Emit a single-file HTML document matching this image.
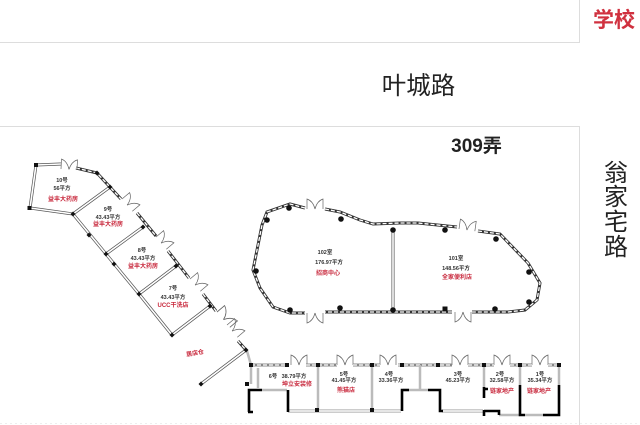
<!DOCTYPE html>
<html><head><meta charset="utf-8"><style>
html,body{margin:0;padding:0;background:#fff;width:640px;height:425px;overflow:hidden}
svg{display:block;font-family:"Liberation Sans","Noto Sans CJK SC",sans-serif}
.art{filter:blur(.35px)}
.w1{fill:none;stroke:#555;stroke-width:3}
.w2{fill:none;stroke:#fff;stroke-width:1.6}
.h1{fill:none;stroke:#333;stroke-width:3}
.h2{fill:none;stroke:#fff;stroke-width:1.3;stroke-dasharray:4 2}
.g{fill:none;stroke:#bbb;stroke-width:2.5}
.k{fill:none;stroke:#000;stroke-width:2.6}
.d{fill:none;stroke:#666;stroke-width:.7}
.t{font-size:5.5px;fill:#333;text-anchor:middle;font-weight:bold}
.r{font-size:6px;fill:#c8283c;text-anchor:middle;font-weight:bold}
</style></head><body>
<svg width="640" height="425" viewBox="0 0 640 425" xmlns="http://www.w3.org/2000/svg">
<defs><path id="dr" d="M0 0V-10Q6-8 8 0M16 0V-10Q10-8 8 0"/></defs>
<path d="M0 42.5H579.5V0M0 126.5H579.5V425" fill="none" stroke="#ddd" stroke-width="1"/>
<path d="M0 423.5H640" fill="none" stroke="#eee" stroke-width="1" stroke-dasharray="2 3"/>
<g class="art">
<!-- diagonal units: double walls -->
<path class="w1" d="M61 164L36 165M36 165L30 208L73 214L139 294L172 335L210 306M110 187L73 214M143 227L106 254M176 266L139 294M246 350L201 384"/>
<path class="w2" d="M61 164L36 165M36 165L30 208L73 214L139 294L172 335L210 306M110 187L73 214M143 227L106 254M176 266L139 294M246 350L201 384"/>
<!-- diagonal hatched front -->
<path class="h1" d="M76 168L97 173L121 199M137 213L156 236M168 251L189 278M203 294L216 311M238 341L246 350"/>
<path class="h2" d="M76 168L97 173L121 199M137 213L156 236M168 251L189 278M203 294L216 311M238 341L246 350"/>
<g class="d">
<use href="#dr" transform="translate(61,169) rotate(3)"/>
<use href="#dr" transform="translate(122,199) rotate(50)"/>
<use href="#dr" transform="translate(156,237) rotate(50)"/>
<use href="#dr" transform="translate(190,279) rotate(50)"/>
<use href="#dr" transform="translate(217,312) rotate(50) scale(1.25,1)"/>
<use href="#dr" transform="translate(227,325) rotate(50)"/>
<use href="#dr" transform="translate(307,209)"/>
<use href="#dr" transform="translate(307,313) scale(1,-1)"/>
<use href="#dr" transform="translate(459,229) rotate(8)"/>
<use href="#dr" transform="translate(455,312) scale(1,-1)"/>
<use href="#dr" transform="translate(291,365)"/>
<use href="#dr" transform="translate(337,365)"/>
<use href="#dr" transform="translate(380,365)"/>
<use href="#dr" transform="translate(452,365)"/>
<use href="#dr" transform="translate(494,365)"/>
<use href="#dr" transform="translate(532,365)"/>
</g>
<!-- rooms 102/101 outline -->
<path class="h1" d="M305 208L290 204L267 212L262 225L253 270L260 288L273 307L290 313H305M325 209L340 212L360 220L373 224L400 223L418 223L457 227M478 231L500 234L528 263L540 283L537 300L525 310L508 312H472M452 312H325"/>
<path class="h2" d="M305 208L290 204L267 212L262 225L253 270L260 288L273 307L290 313H305M325 209L340 212L360 220L373 224L400 223L418 223L457 227M478 231L500 234L528 263L540 283L537 300L525 310L508 312H472M452 312H325"/>
<path class="w1" d="M393 230V310"/><path class="w2" d="M393 230V310"/>
<!-- bottom row -->
<path class="h1" style="stroke:#888" d="M251 365H287M306 365H337M353 365H380M398 365H452M468 365H494M510 365H532M548 365H559"/>
<path class="h2" d="M251 365H287M306 365H337M353 365H380M398 365H452M468 365H494M510 365H532M548 365H559"/>
<path class="g" d="M318 365V410M372 365V410M420 365V390M484 365V388M520 365V385M559 365V385M262 390H287M403 390H428M499 415H520M525 415H543M251 365V384M258 368V388M247 351L251 365"/>
<path class="w1" style="stroke:#999" d="M288 411H317H372H401M442 411H483"/>
<path class="w2" d="M288 411H317H372H401M442 411H483"/>
<path class="k" d="M249 412V390H262M288 390V412M402 411V390H409M428 390H440V411H443M484 387V398M484 389H488M484 410V416M484 411H499V415M520 385V415H525M543 415H559V385M248 412H253"/>
<!-- columns -->
<g fill="#111">
<circle cx="289" cy="208" r="2.8"/><circle cx="267" cy="220" r="2.8"/><circle cx="341" cy="219" r="2.8"/><circle cx="393" cy="230" r="2.8"/><circle cx="256" cy="271" r="2.8"/><circle cx="290" cy="310" r="2.8"/><circle cx="340" cy="308" r="2.8"/><circle cx="393" cy="310" r="2.8"/><circle cx="445" cy="230" r="2.8"/><circle cx="496" cy="239" r="2.8"/><circle cx="529" cy="272" r="2.8"/><circle cx="529" cy="302" r="2.8"/><circle cx="495" cy="309" r="2.8"/>
<rect x="442.500" y="306.500" width="5" height="5"/>
<rect x="34" y="163" width="4" height="4"/><rect x="27.500" y="206" width="4" height="4"/>
<rect x="249" y="363" width="4" height="4"/><rect x="245" y="382" width="4" height="4"/><rect x="285" y="363" width="4" height="4"/><rect x="316" y="363" width="4" height="4"/><rect x="315" y="408" width="4" height="4"/><rect x="370" y="363" width="4" height="4"/><rect x="370" y="408" width="4" height="4"/><rect x="400" y="363" width="4" height="4"/><rect x="436" y="363" width="4" height="4"/><rect x="482" y="363" width="4" height="4"/><rect x="518" y="363" width="4" height="4"/><rect x="557" y="363" width="4" height="4"/>
<path d="M97 170.500l2.500 2.500-2.500 2.500-2.500-2.500zM110 184.500l2.500 2.500-2.500 2.500-2.500-2.500zM73 211.500l2.500 2.500-2.500 2.500-2.500-2.500zM89 232.500l2.500 2.500-2.500 2.500-2.500-2.500zM106 251.500l2.500 2.500-2.500 2.500-2.500-2.500zM114 261.500l2.500 2.500-2.500 2.500-2.500-2.500zM139 291.500l2.500 2.500-2.500 2.500-2.500-2.500zM143 224.500l2.500 2.500-2.500 2.500-2.500-2.500zM176 263.500l2.500 2.500-2.500 2.500-2.500-2.500zM210 303.500l2.500 2.500-2.500 2.500-2.500-2.500zM172 332.500l2.500 2.500-2.500 2.500-2.500-2.500zM246 347.500l2.500 2.500-2.500 2.500-2.500-2.500zM201 381.500l2.500 2.500-2.500 2.500-2.500-2.500z"/>
</g>
<!-- unit labels -->
<text class="t" x="62" y="182">10号</text><text class="t" x="62" y="190">56平方</text><text class="r" x="63" y="201">益丰大药房</text>
<text class="t" x="108" y="211">9号</text><text class="t" x="108" y="219">43.43平方</text><text class="r" x="108" y="226">益丰大药房</text>
<text class="t" x="142" y="252">8号</text><text class="t" x="143" y="260">43.43平方</text><text class="r" x="143" y="268">益丰大药房</text>
<text class="t" x="173" y="290">7号</text><text class="t" x="173" y="299">43.43平方</text><text class="r" x="173" y="307">UCC干洗店</text>
<text class="r" x="195" y="355" transform="rotate(-10 195 353)">居店仓</text>
<text class="t" x="325" y="254">102室</text><text class="t" x="329" y="264">176.97平方</text><text class="r" x="328" y="275">招商中心</text>
<text class="t" x="456" y="260">101室</text><text class="t" x="456" y="270">148.56平方</text><text class="r" x="457" y="279">全家便利店</text>
<text class="t" x="273" y="378">6号</text><text class="t" x="294" y="378">38.79平方</text><text class="r" x="297" y="386">坤立安装修</text>
<text class="t" x="344" y="376">5号</text><text class="t" x="344" y="382">41.45平方</text><text class="r" x="346" y="392">熊猫店</text>
<text class="t" x="389" y="376">4号</text><text class="t" x="391" y="382">33.36平方</text>
<text class="t" x="458" y="376">3号</text><text class="t" x="458" y="382">45.23平方</text>
<text class="t" x="500" y="376">2号</text><text class="t" x="502" y="382">32.58平方</text><text class="r" x="502" y="393">链家地产</text>
<text class="t" x="540" y="376">1号</text><text class="t" x="540" y="382">35.34平方</text><text class="r" x="539" y="393">链家地产</text>
</g>
<!-- big labels -->
<text x="614" y="27" font-size="21" font-weight="bold" fill="#d0313f" text-anchor="middle">学校</text>
<text x="418.500" y="94" font-size="24.500" fill="#222" text-anchor="middle">叶城路</text>
<text x="476.500" y="152" font-size="19" font-weight="bold" fill="#222" text-anchor="middle">309弄</text>
<g font-size="24" fill="#222" text-anchor="middle">
<text x="616" y="181">翁</text><text x="616" y="205">家</text><text x="616" y="230">宅</text><text x="616" y="255">路</text>
</g>
</svg>
</body></html>
